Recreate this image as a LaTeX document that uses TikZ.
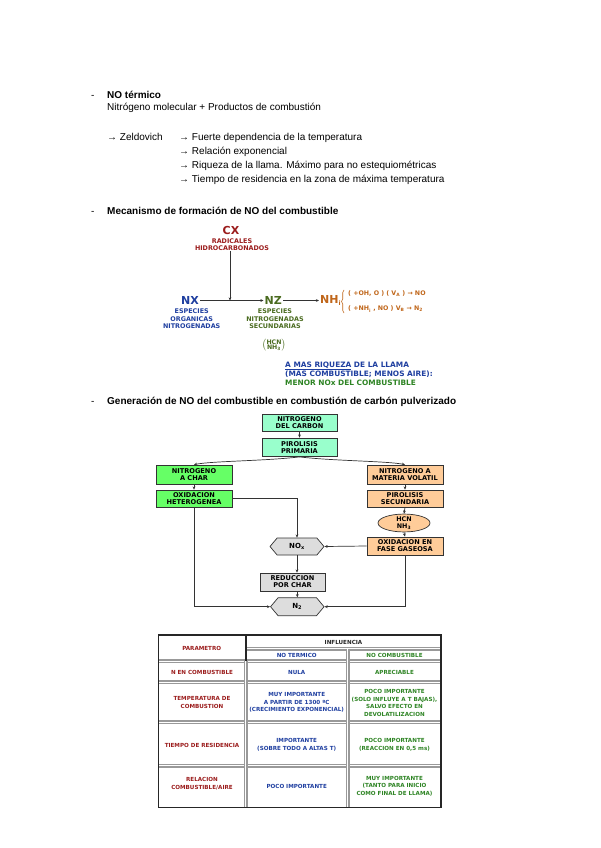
\documentclass[tikz,border=0pt]{standalone}
\usepackage{fontspec}
\setmainfont{Liberation Sans}
\newfontfamily\vf{DejaVu Sans}
\usetikzlibrary{shapes.geometric,shapes.symbols,arrows.meta,decorations.pathreplacing}
\definecolor{dred}{HTML}{9B1C1C}
\definecolor{dblue}{HTML}{1F3FA0}
\definecolor{olive}{HTML}{4A6B1F}
\definecolor{dgreen}{HTML}{2E8424}
\definecolor{orng}{HTML}{C0661A}
\definecolor{mint}{HTML}{99FFCC}
\definecolor{lgreen}{HTML}{66FF66}
\definecolor{peach}{HTML}{FFCC99}
\definecolor{lgray}{HTML}{DDDDDD}
\begin{document}
\begin{tikzpicture}[x=1pt,y=-1pt,
  tx/.style={inner sep=0pt, anchor=base west, font=\fontsize{10}{12}\selectfont},
  txb/.style={tx, font=\fontsize{10}{12}\selectfont\bfseries},
  big/.style={inner sep=1pt, font=\vf\bfseries\fontsize{11}{13}\selectfont},
  lab/.style={inner sep=0pt, align=center, font=\vf\bfseries\fontsize{6.4}{7.4}\selectfont},
  fbox/.style={draw=black!80, line width=0.7pt, inner sep=0pt, align=center,
     font=\vf\bfseries\fontsize{6.6}{7.1}\selectfont, minimum width=76pt, minimum height=18pt},
  hexa/.style={draw=black!80, line width=0.7pt, fill=lgray, signal, signal to=east and west,
     signal pointer angle=100, minimum width=54pt, minimum height=17pt, inner sep=0pt,
     font=\vf\bfseries\fontsize{7}{8}\selectfont},
  arr/.style={draw=black!80, line width=0.7pt, -{Stealth[length=3.2pt,width=2.8pt]}},
  cell/.style={inner sep=0pt, align=center, font=\vf\bfseries\fontsize{5.6}{7.5}\selectfont},
  grid/.style={draw=black!40, line width=1.6pt, double=white, double distance=0.5pt},
  rtx/.style={inner sep=0pt, anchor=west, text=orng, font=\vf\bfseries\fontsize{6.3}{7}\selectfont},
]
\useasboundingbox (0,0) rectangle (600,848);
\fill[white] (0,0) rectangle (600,848);

% ---------- Section 1 ----------
\node[tx] (b1) at (91,98.6) {-};
\node[txb] (h1) at (107,98.6) {NO térmico};
\node[tx] (t1) at (107,110.6) {Nitrógeno molecular + Productos de combustión};
\node[tx] (z0) at (107,140.3) {→ Zeldovich};
\node[tx] (z1) at (179,140.3) {→ Fuerte dependencia de la temperatura};
\node[tx] (z2) at (179,154.6) {→ Relación exponencial};
\node[tx] (z3) at (179,168.9) {→ Riqueza de la llama. Máximo para no estequiométricas};
\node[tx] (z4) at (179,182.6) {→ Tiempo de residencia en la zona de máxima temperatura};

% ---------- Section 2 ----------
\node[tx] (b2) at (91,214.6) {-};
\node[txb] (h2) at (107,214.6) {Mecanismo de formación de NO del combustible};

\node[big, text=dred] (cx) at (231,230) {CX};
\node[lab, text=dred] (rh) at (232,244.7) {RADICALES\\HIDROCARBONADOS};
\node[big, text=dblue] (nx) at (190,300.5) {NX};
\node[big, text=olive] (nz) at (273.3,300.5) {NZ};
\node[big, text=orng, anchor=west] (nh) at (319,300.5) {NH\textsubscript{\fontsize{6}{7}\selectfont i}};
\coordinate (j) at (230,300.5);
\draw[arr] (nx.east) -- (nz.west);
\draw[arr] (rh.south -| j) -- (j);
\draw[arr] (nz.east) -- (nh.west);
\draw[orng, line width=0.6pt, decorate, decoration={brace, amplitude=2.5pt}] (344,313) -- (344,290);
\node[rtx] (r1) at (348,294) {( +OH, O ) ( V\textsubscript{A} ) → NO};
\node[rtx] (r2) at (348,309) {( +NH\textsubscript{i} , NO ) V\textsubscript{B} → N\textsubscript{2}};
\node[lab, text=dblue] (nxl) at (191.7,318.8) {ESPECIES\\ORGANICAS\\NITROGENADAS};
\node[lab, text=olive] (nzl) at (275,318.8) {ESPECIES\\NITROGENADAS\\SECUNDARIAS};
\node[inner sep=0pt, text=olive] (hn) at (274,345.5) {$\bigl(\vcenter{\hbox{\vf\bfseries\fontsize{6.2}{6.6}\selectfont\begin{tabular}{@{}c@{}}HCN\\[-1.5pt]NH\textsubscript{3}\end{tabular}}}\bigr)$};

\node[inner sep=0pt, anchor=north west, align=left, font=\vf\bfseries\fontsize{7.4}{8.6}\selectfont] (riq) at (285,361.5)
  {\textcolor{dblue}{\underline{A MAS RIQUEZA} DE LA LLAMA}\\\textcolor{dblue}{(MAS COMBUSTIBLE; MENOS AIRE):}\\\textcolor{dgreen}{MENOR NOx DEL COMBUSTIBLE}};

% ---------- Section 3 ----------
\node[tx] (b3) at (91,404.6) {-};
\node[txb] (h3) at (107,404.6) {Generación de NO del combustible en combustión de carbón pulverizado};

\node[fbox, fill=mint, minimum width=75pt, minimum height=17.5pt] (ndc) at (299.5,423) {NITROGENO\\DEL CARBON};
\node[fbox, fill=mint, minimum width=75pt, minimum height=18.5pt] (pp) at (299.5,447.3) {PIROLISIS\\PRIMARIA};
\node[fbox, fill=lgreen, minimum height=19pt] (nac) at (194,474.5) {NITROGENO\\A CHAR};
\node[fbox, fill=lgreen, minimum height=17pt] (oh) at (194,498.5) {OXIDACION\\HETEROGENEA};
\node[fbox, fill=peach, minimum height=19pt] (nmv) at (405,474.5) {NITROGENO A\\MATERIA VOLATIL};
\node[fbox, fill=peach, minimum height=17pt] (ps) at (405,498.5) {PIROLISIS\\SECUNDARIA};
\node[ellipse, draw=black!80, line width=0.7pt, fill=peach, minimum width=52pt, minimum height=16pt, inner sep=0pt, align=center,
      font=\vf\bfseries\fontsize{6.4}{6.6}\selectfont] (hcn) at (404,523) {HCN\\NH\textsubscript{3}};
\node[fbox, fill=peach, minimum height=18pt] (ofg) at (405,546) {OXIDACION EN\\FASE GASEOSA};
\node[hexa] (nox) at (297,546.5) {NO\textsubscript{x}};
\node[fbox, fill=lgray, minimum width=65pt, minimum height=18pt] (red) at (292.5,582) {REDUCCION\\POR CHAR};
\node[hexa, minimum height=18pt, minimum width=53.5pt] (n2) at (297.3,606.7) {N\textsubscript{2}};

\draw[arr] (ndc.south) -- (pp.south |- pp.north);
\draw[arr] (pp.south) .. controls (265,461) and (212,461) .. (nac.north);
\draw[arr] (pp.south) .. controls (334,461) and (387,461) .. (nmv.north);
\draw[arr] (nac.south) -- (oh.north);
\draw[arr] (nmv.south) -- (ps.north);
\draw[arr] (ps.south) -- (hcn.north);
\draw[arr] (hcn.south) -- (ofg.north);
\draw[arr] (ofg.west) -- (nox.east);
\draw[arr] (oh.east) -| (nox.north);
\draw[arr] (nox.south) -- (nox.south |- red.north);
\draw[arr] (red.south -| n2.north) -- (n2.north);
\draw[arr] (oh.south) |- (n2.west);
\draw[arr] (ofg.south) |- (n2.east);

% ---------- Table ----------
\draw[grid] (158.3,661) -- (441,661);
\draw[grid] (158.3,682) -- (441,682);
\draw[grid] (158.3,722.3) -- (441,722.3);
\draw[grid] (158.3,765.7) -- (441,765.7);
\draw[grid] (245.7,648.7) -- (441,648.7);
\draw[grid] (347.7,648.7) -- (347.7,807.3);
\draw[grid] (245.7,661) -- (245.7,807.3);
\draw[black!85, line width=1.6pt] (245.7,635) -- (245.7,661);
\draw[black!85, line width=1.1pt] (158.3,635) rectangle (441,807.3);

\node[cell, text=dred] (c00) at (201.7,648) {PARAMETRO};
\node[cell, text=black!85] (c01) at (343.5,642) {INFLUENCIA};
\node[cell, text=dblue] (c02) at (296.7,655.3) {NO TERMICO};
\node[cell, text=dgreen] (c03) at (394.5,655.3) {NO COMBUSTIBLE};
\node[cell, text=dred] (c10) at (202,672) {N EN COMBUSTIBLE};
\node[cell, text=dblue] (c11) at (296.7,672) {NULA};
\node[cell, text=dgreen] (c12) at (394.5,672) {APRECIABLE};
\node[cell, text=dred] (c20) at (202,702.3) {TEMPERATURA DE\\COMBUSTION};
\node[cell, text=dblue] (c21) at (296.7,702.7) {MUY IMPORTANTE\\A PARTIR DE 1300 ºC\\(CRECIMIENTO EXPONENCIAL)};
\node[cell, text=dgreen] (c22) at (394.5,703.2) {POCO IMPORTANTE\\(SOLO INFLUYE A T BAJAS),\\SALVO EFECTO EN\\DEVOLATILIZACION};
\node[cell, text=dred] (c30) at (202,745) {TIEMPO DE RESIDENCIA};
\node[cell, text=dblue] (c31) at (296.7,744.9) {IMPORTANTE\\(SOBRE TODO A ALTAS T)};
\node[cell, text=dgreen] (c32) at (394.5,744.9) {POCO IMPORTANTE\\(REACCION EN 0,5 ms)};
\node[cell, text=dred] (c40) at (202,783.9) {RELACION\\COMBUSTIBLE/AIRE};
\node[cell, text=dblue] (c41) at (296.7,786.7) {POCO IMPORTANTE};
\node[cell, text=dgreen] (c42) at (394.5,786) {MUY IMPORTANTE\\(TANTO PARA INICIO\\COMO FINAL DE LLAMA)};
\end{tikzpicture}
\end{document}
